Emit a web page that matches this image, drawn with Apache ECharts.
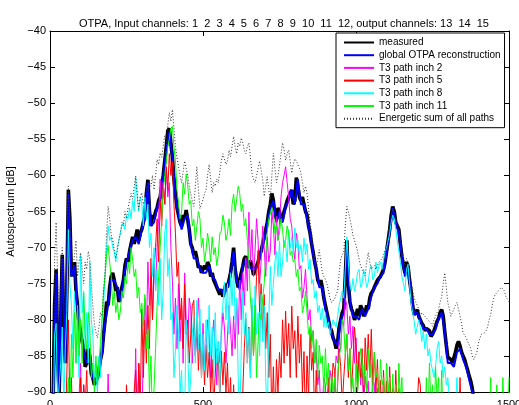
<!DOCTYPE html>
<html>
<head>
<meta charset="utf-8">
<script src="https://cdn.jsdelivr.net/npm/echarts@6/dist/echarts.min.js"></script>
<style>
html,body{margin:0;padding:0;background:#fff;}
#chart{width:519px;height:405px;}
</style>
</head>
<body>
<div id="chart"></div>
<script>
// frequency steps (Hz): reconstruction sampled every 10 Hz, all other curves every 5 Hz
const STEP_COARSE = 10;
const STEP_FINE = 5;
const xTicks = [0, 500, 1000, 1500];
const yTicks = [-90, -85, -80, -75, -70, -65, -60, -55, -50, -45, -40];

const seriesNames = ['measured', 'global OTPA reconstruction', 'T3 path inch 2', 'T3 path inch 5', 'T3 path inch 8', 'T3 path inch 11', 'Energetic sum of all paths'];

// 0..1500 Hz every 5 Hz
const measured = [
-95,-95,-92,-78,-73,-86,-90,-80,-71,-82,-86,-76,-62,-66,-74,-73,-72,-76,-78,-81,
-81,-83,-84,-86.5,-86,-84,-85,-87.5,-88,-89,-88.5,-88,-87,-85.5,-84.5,-82,-80,-77.5,-78,-75.5,
-74,-73.5,-74.5,-76,-75.5,-77.5,-77,-75.5,-74.5,-72.5,-71.5,-72,-70.5,-69.5,-68.5,-69.5,-68.5,-67.5,-69,-68,
-67.5,-66.5,-65.5,-62.5,-60.6,-65,-67,-65.5,-66,-65,-64.5,-63.5,-63,-61.5,-60,-58,-56,-53.8,-53.5,-55.5,
-57.5,-60.5,-62.5,-64.5,-65.5,-66.5,-67,-65.5,-66,-64.8,-65,-67.5,-69.5,-70,-71,-70.5,-71.5,-72.8,-72.5,-73.5,
-73.5,-72.5,-73,-72,-72.5,-74,-73.5,-74.5,-74.5,-75.5,-75.3,-76.5,-75.8,-76.8,-76,-75,-75.5,-74.5,-73.5,-72,
-70,-73,-74.5,-75.5,-75.3,-73.5,-72.6,-71.5,-71.2,-72.8,-72.6,-71.8,-72.5,-73.8,-73,-72.5,-72,-71,-70.5,-69.5,
-68.5,-67.5,-66.5,-65,-64,-62.5,-63.5,-65.5,-66,-64.5,-65,-66.5,-66,-65,-64.3,-63.5,-63,-62.5,-62,-64,
-63.5,-60.3,-60.5,-63,-63.5,-63,-64,-65,-65.5,-67,-68,-69.5,-70.7,-72,-73,-74.5,-75,-74.5,-75.5,-77,
-78,-79,-80,-81,-81.5,-82.5,-83,-84,-83,-81,-80,-79,-78.5,-74,-69,-75,-77.5,-78.5,-79,-80,
-79.5,-78.5,-79.5,-78,-78.5,-79.5,-79,-78,-78.5,-77,-76.3,-76,-75.5,-75,-74.5,-74.5,-74,-73.5,-73,-72,
-70.5,-69,-67.5,-65.5,-64.3,-65,-66.5,-66.5,-67.5,-69.5,-71.2,-72.5,-73.5,-72,-72.6,-74.5,-76,-78,-79.3,-79,
-78.6,-79.5,-80,-80.5,-80.8,-81.5,-81.2,-81,-81.5,-82.3,-82,-81.5,-80.9,-80.2,-79.8,-79,-78.6,-79.5,-81.6,-83.5,
-85.2,-85,-85.5,-86,-85.8,-84.5,-83.5,-83,-83.6,-84.5,-85,-85.5,-86.3,-87,-87.8,-88.5,-89.5,-91,-93,-95,
-95,-95,-95,-95,-95,-95,-95,-95,-95,-95,-95,-95,-95,-95,-95,-95,-95,-95,-95,-95,
-95];

// 0..1500 Hz every 10 Hz
const reconstruction = [
-95,-92,-73.5,-90,-71.5,-86,-62.5,-74,-72.5,-78.5,
-81,-84.5,-86,-85.5,-88,-88.5,-87,-84.5,-80.5,-78,
-74.5,-74.5,-75.5,-77.5,-74.5,-72,-70.5,-69,-68.5,-69.5,
-67.5,-66,-61,-67,-66.5,-64.5,-63.5,-60,-56.5,-54,
-57.5,-63,-65.5,-67.5,-66,-65.5,-69.5,-71.5,-71.5,-73,
-73.5,-73.5,-72.5,-74,-74.5,-75.8,-75.8,-76.5,-75.5,-74,
-70.5,-74.5,-75.8,-72.6,-71.7,-72.6,-73,-73,-72.5,-70.5,
-69,-66.5,-64.5,-63.5,-66.5,-65,-66.5,-64.3,-63.5,-62,
-64,-60.5,-64,-64,-66,-68,-71,-73,-75.5,-75.5,
-78.5,-80,-82,-83,-83.5,-80,-79,-69.5,-77.5,-79.5,
-79.5,-80,-78.5,-79.5,-78.5,-76.8,-75.5,-75,-74,-73.5,
-70.5,-68,-64.5,-66.5,-68,-71.2,-74,-72.6,-76.5,-79.3,
-79,-80,-81.3,-81.2,-82,-82,-81.3,-79.8,-79,-81.6,
-86,-86,-86.5,-84.5,-84,-85.5,-86.5,-88.3,-90,-93,
-95,-95,-95,-95,-95,-95,-95,-95,-95,-95,
-95];

// 0..1500 Hz every 5 Hz
const pathInch2 = [
-95,-95,-95,-95,-95,-95,-95,-95,-95,-95,-95,-95,-95,-95,-95,-95,-95,-95,-95,-95,
-86,-95,-89,-95,-95,-95,-95,-95,-95,-95,-95,-95,-95,-95,-95,-95,-95,-95,-87.5,-95,
-95,-95,-95,-95,-95,-95,-95,-95,-95,-95,-95,-95,-95,-95,-95,-95,-84,-95,-86,-92,
-95,-84,-77,-82,-72,-78,-74,-80,-71,-76,-70,-66,-60.5,-66,-61,-64,-58.8,-63,-61,-70,
-74.5,-82,-77,-84,-75,-83,-78,-86,-73.5,-80,-83.6,-77,-78.5,-86,-80,-85,-82,-77,-81,-87,
-80.5,-86,-84,-80,-82,-88,-83,-80,-84,-89,-83,-86,-82,-79,-81,-86,-82.5,-78,-81.3,-85,
-79.5,-84,-77.3,-82,-74.5,-80,-73.5,-78,-71.4,-76,-65.1,-72,-67.5,-74,-70.5,-66,-69,-75,-71.9,-67,
-70,-74,-68.5,-72,-70.5,-65,-67,-71,-65.7,-69,-66.5,-63,-61,-60,-58.8,-61,-63,-66,-67,-70,
-71.6,-68,-69.5,-73,-72.5,-77,-75.5,-73,-77,-80,-78.6,-83,-81.5,-86,-84.4,-89,-87,-93,-92,-88,
-89,-95,-90,-87,-88.5,-94,-89,-85,-86,-83,-84,-80,-80.9,-77,-78,-82,-79.5,-84,-80.9,-86,
-82.5,-88,-84.4,-89,-86.7,-92,-87.8,-90,-88.5,-95,-92,-88,-89,-95,-89.5,-95,-95,-95,-95,-95,
-95,-95,-95,-95,-95,-95,-95,-95,-95,-95,-95,-95,-95,-95,-95,-95,-95,-95,-95,-95,
-95,-95,-95,-95,-95,-95,-95,-95,-95,-95,-95,-95,-95,-95,-95,-95,-95,-95,-95,-95,
-95,-95,-95,-95,-95,-95,-95,-95,-95,-95,-95,-95,-95,-95,-95,-95,-95,-95,-95,-95,
-95,-95,-95,-95,-95,-95,-95,-95,-95,-95,-95,-95,-95,-95,-95,-95,-95,-95,-95,-95,
-95];

const pathInch5 = [
-95,-95,-95,-95,-95,-95,-95,-95,-95,-95,-95,-95,-80,-92,-88,-95,-95,-95,-95,-95,
-88,-95,-89,-92,-87,-95,-90,-95,-95,-95,-95,-95,-95,-95,-95,-95,-95,-95,-95,-95,
-95,-95,-95,-95,-95,-95,-95,-95,-95,-95,-89,-95,-95,-95,-95,-90,-87,-95,-86,-92,
-78.5,-88,-80,-86,-78,-84,-71.5,-80,-73,-70,-66,-72,-63.5,-67,-61,-64,-58.8,-62,-57,-60,
-58,-64,-68,-74,-72,-80,-77,-84,-75,-82,-80,-86,-82,-78,-77.3,-85,-80,-87,-82,-88,
-83,-89,-83.5,-88,-84.5,-90,-85.5,-92,-87.5,-84,-85.5,-91,-84.3,-89,-84.5,-90,-86,-93,-88,-95,
-89,-95,-93,-95,-95,-96,-90,-84,-79.8,-86,-81,-88,-78,-85,-79.5,-74,-70.4,-79,-75,-82,
-76.5,-84,-79,-88,-82,-94,-86.5,-95,-85.5,-90,-84.5,-88,-80,-86,-78.8,-85,-80.5,-88,-78.1,-84,
-81.5,-88,-79.5,-86,-82,-90,-84.4,-95,-85,-91,-81.3,-87,-84.5,-95,-87,-93,-90,-95,-93,-95,
-95,-92,-88,-95,-90,-86,-87,-93,-89,-84,-86.5,-92,-88,-85,-82,-88,-84,-90,-86,-81,
-83.6,-90,-84.5,-88,-84,-91,-82.5,-87,-82,-88,-81.3,-89,-84.5,-90,-85.5,-92,-88.4,-95,-87,-93,
-88.5,-95,-86.5,-92,-89.5,-95,-87,-93,-89.5,-95,-95,-95,-95,-95,-95,-95,-95,-95,-95,-95,
-95,-88,-89,-95,-95,-95,-95,-95,-95,-95,-95,-95,-95,-95,-95,-95,-95,-95,-95,-95,
-95,-95,-95,-95,-95,-95,-95,-95,-88,-95,-95,-95,-95,-95,-95,-95,-95,-95,-95,-95,
-95,-95,-95,-95,-95,-95,-95,-95,-95,-95,-95,-95,-95,-95,-95,-95,-95,-95,-95,-95,
-95];

const pathInch8 = [
-95,-95,-95,-82,-80.5,-92,-92,-86,-81,-92,-84,-79,-67.5,-75,-78,-84,-76,-86,-80,-88,
-71,-79,-76,-84,-79,-86,-72,-80,-82,-88,-87,-90,-85,-88,-80,-78,-74,-70,-67,-69,
-68.5,-70,-70.5,-72,-70,-69,-68,-67,-66.5,-67.5,-65.5,-66,-64.5,-66,-63.5,-65,-60.2,-63,-65,-63,
-64,-67,-63,-66,-64,-70,-68,-74,-70,-76,-73,-78,-71.5,-80,-76,-68,-66,-74,-71.5,-80,
-79,-88,-84,-78,-82,-90,-87,-95,-93,-80,-84,-91,-88,-82,-79.5,-86,-77.3,-84,-78.5,-88,
-82,-87,-80,-86,-78,-85,-81,-88,-79,-86,-83,-90,-80,-78,-74.8,-80,-75,-82,-73.5,-78,
-72.6,-80,-77,-88,-95,-84,-76,-82,-79,-86,-81.2,-88,-77,-84,-75.3,-82,-79,-85,-76.4,-83,
-78,-88,-95,-80,-72.6,-78,-75,-72,-70.5,-74,-69.1,-74,-72,-69,-69.7,-72,-67.5,-70,-68.5,-71,
-67.3,-70,-69,-71,-69.6,-72,-68.7,-71,-69.5,-73,-71.6,-75,-74.4,-77,-76,-79,-78,-80,-78.4,-81,
-79,-81,-80.3,-82,-81,-80,-80.5,-81,-79.5,-78,-78,-76,-77,-73,-68.5,-72,-75.3,-76,-74.3,-76,
-75,-73.5,-73,-75.5,-75,-73,-74,-75.5,-74.8,-73,-72.5,-74.5,-74,-72,-73.5,-72.5,-72,-73,-71.8,-70.5,
-70,-69,-68,-66.5,-65.5,-66,-67.5,-69,-70.5,-72,-74,-75,-76,-73,-72.3,-75,-77.6,-79,-80.2,-82,
-82,-80,-81,-83,-81.5,-84,-82,-85,-84,-86,-86,-88,-86.5,-84,-83,-86,-85,-88,-86.5,-89,
-88,-91,-92,-95,-95,-92,-88,-95,-95,-95,-95,-95,-95,-95,-95,-95,-95,-95,-95,-95,
-95,-95,-95,-95,-95,-95,-95,-95,-95,-95,-95,-95,-95,-95,-95,-95,-95,-95,-95,-95,
-95];

const pathInch11 = [
-95,-95,-95,-95,-95,-95,-95,-95,-95,-95,-95,-95,-88,-95,-82,-88,-79,-86,-78,-85,
-80,-86,-76.3,-82,-84,-79,-81,-88,-86,-90,-85,-89,-86,-83,-80,-76,-74,-71,-69.7,-72,
-74,-78,-76,-79,-77.5,-80,-78.8,-76,-77,-74,-75,-72,-73.6,-70,-71.6,-74,-73,-77,-75.5,-79,
-77.7,-81,-76.5,-84,-81.3,-90,-85,-95,-95,-84,-78,-74,-70,-66,-62,-60,-58,-56,-55,-53.5,
-53.2,-56,-58,-62,-63.7,-66,-65.1,-61,-62.6,-59.8,-61.3,-64,-63.5,-67,-66.1,-69,-67,-65,-66,-70,
-68.7,-72,-70.4,-68,-69.5,-72,-68.5,-71,-70,-72.5,-71,-68,-67.7,-65.5,-66.5,-69,-68,-66,-68.3,-64,
-62.6,-65,-63.3,-61.5,-62.5,-65,-64,-67,-66,-69,-72,-77,-80,-85,-78,-88,-83,-79,-80,-77,
-75,-71,-68,-66,-66,-64.5,-65,-68,-67,-69,-68,-66,-67.5,-70,-69,-67,-68,-71,-70.5,-72,
-71.6,-74,-73,-76,-75.5,-79,-78,-76,-79,-82,-80.9,-84,-81.5,-86,-82.7,-88,-83.5,-86,-85,-90,
-84,-89,-86,-92,-87.5,-90,-88,-95,-88,-85,-84,-80,-80.9,-85,-82,-87,-84,-90,-88,-92,
-86,-90,-87,-84,-85.5,-89,-86,-90,-84,-88,-86,-91,-84.5,-88,-87,-92,-85.5,-89,-88,-93,
-86,-90,-88,-95,-87.5,-92,-89,-95,-86,-91,-88,-95,-95,-95,-95,-95,-95,-95,-95,-95,
-95,-95,-95,-95,-95,-95,-88,-95,-86,-92,-89,-95,-86.5,-91,-88,-95,-87,-95,-95,-95,
-95,-95,-95,-95,-95,-95,-95,-95,-95,-95,-95,-95,-95,-95,-95,-95,-95,-95,-95,-95,
-95,-95,-95,-95,-95,-95,-95,-95,-88,-95,-95,-95,-89,-95,-95,-95,-88,-95,-95,-95,
-88];

const energeticSum = [
-95,-95,-88,-72,-66.5,-74,-80,-75,-70,-74,-78,-70,-61.5,-66,-70,-73,-71,-69,-74,-72,
-70.7,-73,-75,-72,-73,-70.5,-71.6,-75,-78,-80.5,-81.7,-82.5,-81,-79,-79.5,-76,-73,-68,-64.3,-66,
-68.2,-69,-70.3,-71.5,-70.5,-69,-68,-66.5,-67,-65,-66,-64.5,-64.3,-62.5,-63.3,-61.5,-60.1,-62.5,-64.7,-63,
-62.4,-64,-63.5,-61.5,-62.5,-61,-61.5,-60,-62,-60,-57.8,-58.5,-56.9,-57.5,-56,-54.5,-55.5,-53,-51.3,-52.5,
-50.9,-53.5,-56,-57.5,-58.8,-60,-61,-59.5,-58,-59,-60,-61.5,-62.5,-63.5,-64.3,-61.5,-58.8,-62,-64.6,-64,
-63.3,-62.5,-62,-60,-58.5,-60.5,-62.4,-61,-61.5,-60.5,-61,-59.5,-58,-57,-56.9,-58.5,-58,-56.5,-57.4,-56,
-54.6,-56,-57,-55.5,-56,-54.8,-55.5,-56.5,-57,-56,-55.5,-57.5,-59.7,-60.5,-61,-60,-59,-58,-57.8,-60.5,
-62.9,-61.5,-60.2,-62,-63.3,-60,-56.9,-59,-61,-60,-58.6,-57,-55.5,-56.5,-57.9,-57,-56.5,-58,-59.7,-58.5,
-57.7,-58,-58.5,-59,-59.7,-61,-62.4,-61.5,-62.5,-64.5,-66.5,-68,-69.7,-71.5,-73,-71.5,-70.3,-72,-73.4,-74,
-74.4,-75,-76,-77,-77.6,-77.5,-77.1,-76.5,-76,-73.5,-71.6,-71,-70.7,-67,-64.3,-65,-66,-67,-68.3,-69,
-69.7,-70.5,-71.6,-72.5,-73,-73.5,-73.9,-72,-70.7,-72,-73,-72.8,-72.5,-73,-72.5,-72,-72,-71.5,-71,-70.5,
-69.7,-68.5,-67,-65.5,-64.7,-65.5,-66,-66.5,-67,-68.5,-70.5,-71.5,-72.5,-71.5,-71.5,-73,-74.8,-76,-77,-77.5,
-77.6,-78.5,-79.5,-79,-79,-79.5,-79.5,-80,-80,-80.5,-80.9,-80,-79.5,-79,-78.6,-77.5,-76.8,-75,-73.5,-75.5,
-77.6,-78.5,-79.5,-79,-78.5,-78,-77.6,-78.5,-79.5,-80.5,-81.8,-82,-82.5,-83,-83.2,-84,-85,-85.5,-85.5,-84.5,
-83.2,-82.5,-82,-82,-81.8,-81.5,-81,-80,-79.3,-78,-77,-76.5,-76.5,-76,-76,-75.5,-75.5,-76,-76.8,-77,
-77.5];

function pairs(vals, step) { return vals.map((v, i) => [i * step, v]); }

const FONT = 'Liberation Sans, Arial, Helvetica, sans-serif';
const minus = v => String(v).replace('-', '\u2212');
const plain = v => String(v);

const lineDefs = [
  {data: measured, step: STEP_FINE, color: '#000000', width: 3.6, type: 'solid'},
  {data: reconstruction, step: STEP_COARSE, color: '#0000ff', width: 2, type: 'solid'},
  {data: pathInch2, step: STEP_FINE, color: '#ff00ff', width: 1, type: 'solid'},
  {data: pathInch5, step: STEP_FINE, color: '#ff0000', width: 1, type: 'solid'},
  {data: pathInch8, step: STEP_FINE, color: '#00ffff', width: 1, type: 'solid'},
  {data: pathInch11, step: STEP_FINE, color: '#00ff00', width: 1, type: 'solid'},
  {data: energeticSum, step: STEP_FINE, color: '#333333', width: 1, type: [1, 2]}
];

const series = lineDefs.map((d, k) => ({
  name: seriesNames[k],
  type: 'line',
  data: pairs(d.data, d.step),
  symbol: 'none',
  showSymbol: false,
  clip: true,
  animation: false,
  color: d.color,
  lineStyle: {color: d.color, width: d.width, type: d.type},
  emphasis: {disabled: true},
  z: 2
}));

const chart = echarts.init(document.getElementById('chart'), null, {renderer: 'canvas'});
chart.setOption({
  animation: false,
  backgroundColor: '#ffffff',
  title: {
    text: 'OTPA, Input channels: 1  2  3  4  5  6  7  8  9  10  11  12, output channels: 13  14  15',
    left: 279, textAlign: 'center', top: 13,
    textStyle: {fontFamily: FONT, fontSize: 11, fontWeight: 'normal', color: '#000'}
  },
  grid: {left: 50, right: 10, top: 31, bottom: 13, containLabel: false, outerBoundsMode: 'none'},
  legend: {
    left: 336, top: 33, orient: 'vertical',
    data: seriesNames,
    itemWidth: 30, itemHeight: 12, itemGap: 0.7,
    padding: [3.5, 4, 3, 7],
    itemStyle: {opacity: 0, borderWidth: 0},
    backgroundColor: '#ffffff', borderColor: '#000', borderWidth: 1, borderRadius: 0,
    textStyle: {fontFamily: FONT, fontSize: 10, lineHeight: 12, color: '#000'},
    selectedMode: false, z: 10
  },
  xAxis: [
    {type: 'value', position: 'bottom', min: xTicks[0], max: xTicks[xTicks.length-1], interval: 500,
     axisLine: {show: true, onZero: false, lineStyle: {color: '#000', width: 1}},
     axisTick: {show: true, inside: true, length: 5, lineStyle: {color: '#000'}},
     axisLabel: {show: true, margin: 7, fontFamily: FONT, fontSize: 11, color: '#000', formatter: plain},
     splitLine: {show: false}},
    {type: 'value', position: 'top', min: xTicks[0], max: xTicks[xTicks.length-1], interval: 500,
     axisLine: {show: true, onZero: false, lineStyle: {color: '#000', width: 1}},
     axisTick: {show: true, inside: true, length: 5, lineStyle: {color: '#000'}},
     axisLabel: {show: false}, splitLine: {show: false}}
  ],
  yAxis: [
    {type: 'value', position: 'left', min: yTicks[0], max: yTicks[yTicks.length-1], interval: 5,
     name: 'Autospectrum [dB]', nameLocation: 'middle', nameGap: 28,
     nameTextStyle: {fontFamily: FONT, fontSize: 11, color: '#000'},
     axisLine: {show: true, onZero: false, lineStyle: {color: '#000', width: 1}},
     axisTick: {show: true, inside: true, length: 5, lineStyle: {color: '#000'}},
     axisLabel: {show: true, margin: 4, fontFamily: FONT, fontSize: 11, color: '#000', formatter: minus},
     splitLine: {show: false}},
    {type: 'value', position: 'right', min: yTicks[0], max: yTicks[yTicks.length-1], interval: 5,
     axisLine: {show: true, onZero: false, lineStyle: {color: '#000', width: 1}},
     axisTick: {show: true, inside: true, length: 5, lineStyle: {color: '#000'}},
     axisLabel: {show: false}, splitLine: {show: false}}
  ],
  series: series
});
</script>
</body>
</html>
